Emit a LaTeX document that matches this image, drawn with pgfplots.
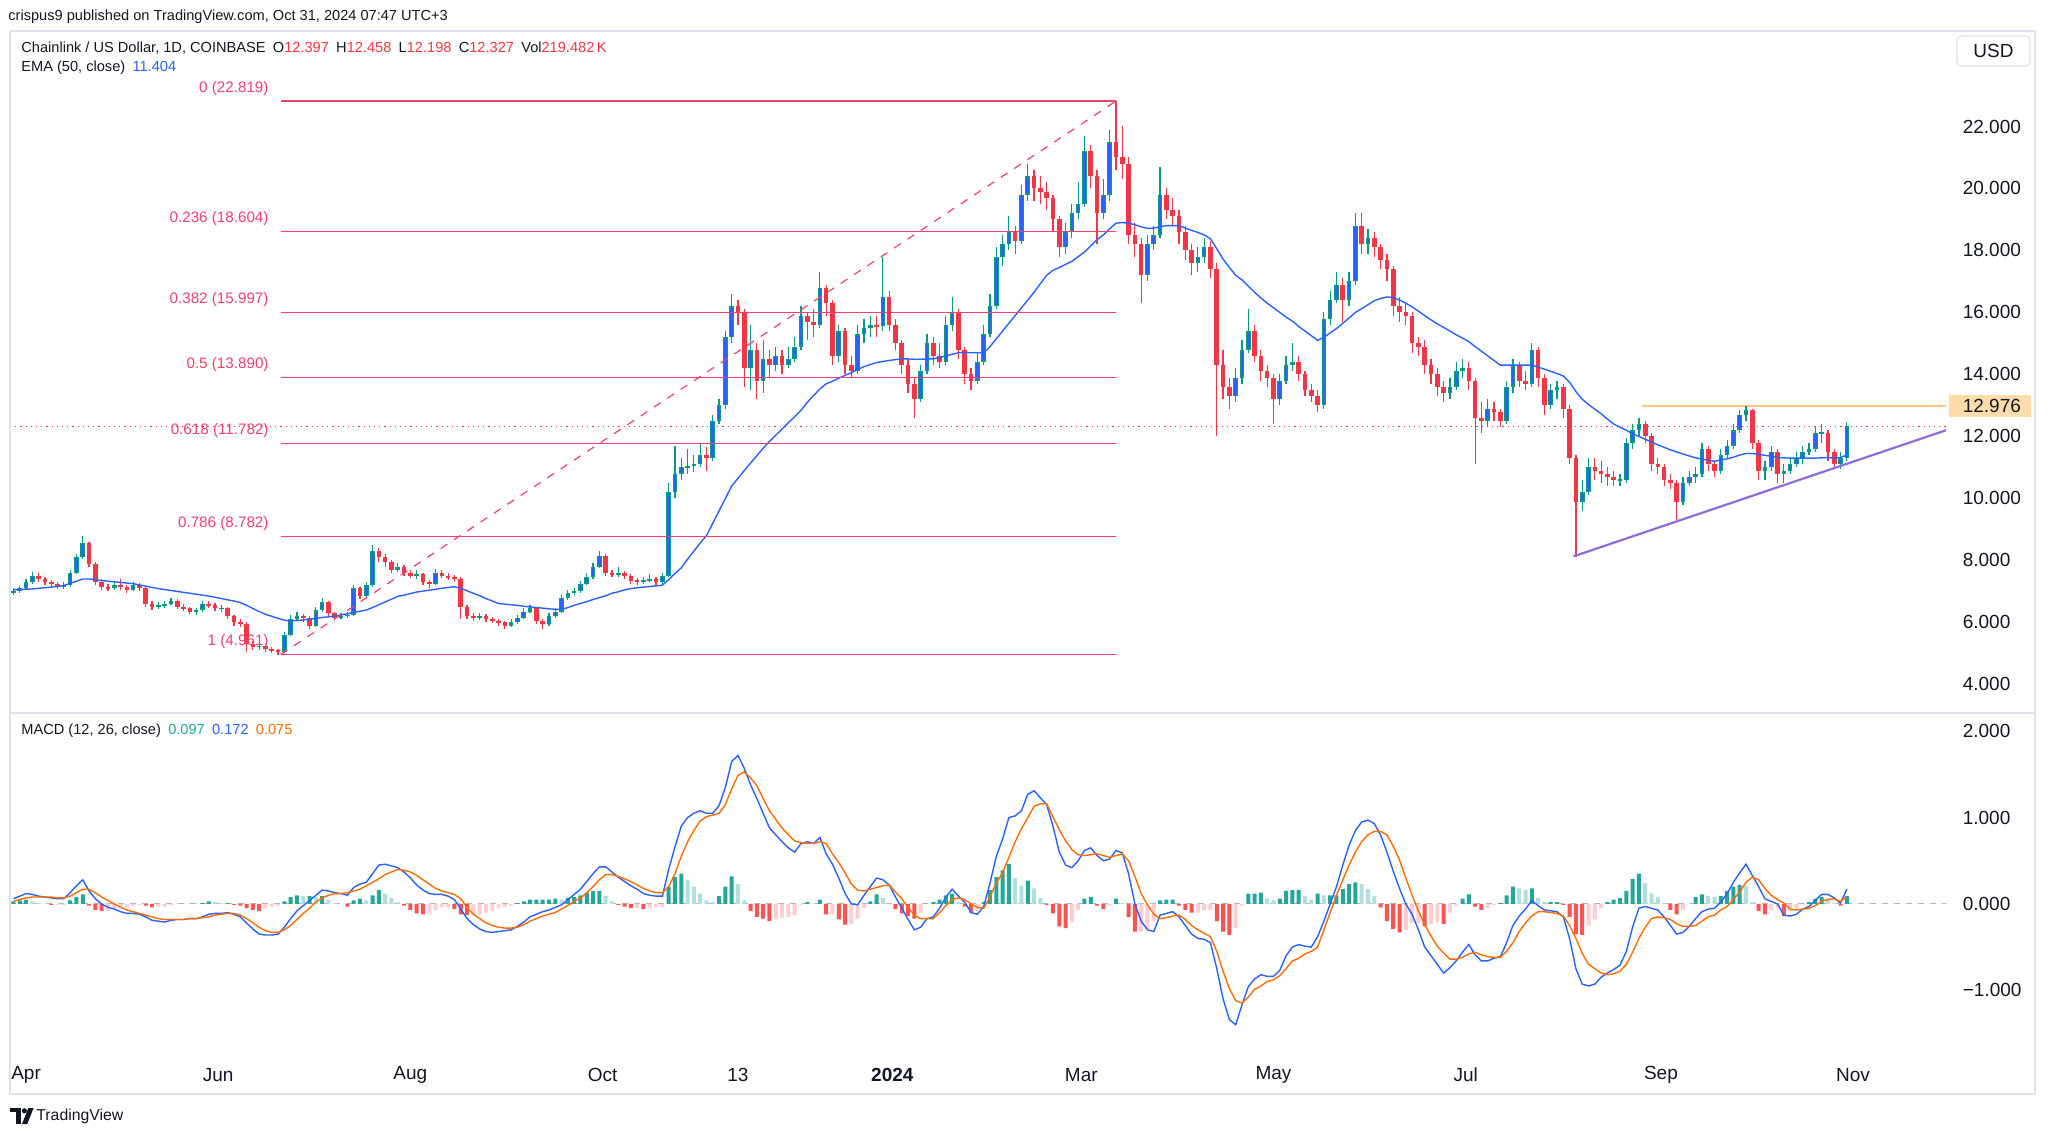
\documentclass[border=0pt]{standalone}
\usepackage{fontspec}
\setmainfont{Liberation Sans}
\usepackage{pgfplots}
\usepackage{pgfplotstable}
\pgfplotsset{compat=1.18}

\definecolor{tvtext}{HTML}{131722}
\definecolor{tvgrey}{HTML}{E0E3EB}
\definecolor{upwick}{HTML}{089981}
\definecolor{upbody}{HTML}{2962FF}
\definecolor{downc}{HTML}{F23645}
\definecolor{emablue}{HTML}{2962FF}
\definecolor{fibpink}{HTML}{F2416E}
\definecolor{trendpurple}{HTML}{8E6CDB}
\definecolor{resorange}{HTML}{FFC77A}
\definecolor{resfill}{HTML}{FFDDAA}
\definecolor{sigorange}{HTML}{FF6D00}
\definecolor{histup}{HTML}{26A69A}
\definecolor{histupfade}{HTML}{B2DFDB}
\definecolor{histdn}{HTML}{FF5252}
\definecolor{histdnfade}{HTML}{FFCDD2}
\definecolor{zerogrey}{HTML}{B2B5BE}
\definecolor{legteal}{HTML}{22AB94}

\newcommand\hdrfont{\fontsize{7.3}{8.5}\selectfont}
\newcommand\tickfont{\fontsize{9.5}{11}\selectfont}
\newcommand\fibfont{\fontsize{7.6}{9}\selectfont}

% LINK/USD, 2-day candles (d = days since 1 Apr 2023)
% c h l = close high low, e = EMA 50, m = MACD, s = signal
\pgfplotstableread{
d c h l e m s
-4 7.00 7.10 6.88 7.05 0.06 0.03
-2 7.10 7.18 6.95 7.06 0.09 0.05
0 7.30 7.40 7.05 7.07 0.12 0.07
2 7.50 7.62 7.25 7.08 0.11 0.08
4 7.40 7.58 7.32 7.10 0.09 0.08
6 7.30 7.45 7.20 7.12 0.08 0.08
8 7.25 7.38 7.15 7.14 0.07 0.08
10 7.15 7.32 7.08 7.16 0.06 0.07
12 7.20 7.30 7.08 7.19 0.06 0.07
14 7.60 7.70 7.15 7.26 0.13 0.09
16 8.10 8.20 7.55 7.33 0.21 0.13
18 8.55 8.80 8.05 7.40 0.28 0.17
20 7.90 8.60 7.80 7.40 0.15 0.17
22 7.30 7.95 7.20 7.38 0.06 0.13
24 7.15 7.40 7.05 7.35 0.00 0.08
26 7.10 7.25 7.00 7.33 -0.04 0.04
28 7.20 7.32 7.05 7.31 -0.06 0.00
30 7.15 7.40 7.05 7.29 -0.09 -0.04
32 7.05 7.22 6.95 7.27 -0.11 -0.07
34 7.20 7.30 7.00 7.25 -0.11 -0.09
36 7.10 7.28 7.00 7.21 -0.12 -0.11
38 6.60 7.15 6.50 7.17 -0.15 -0.13
40 6.50 6.68 6.40 7.13 -0.19 -0.15
42 6.55 6.65 6.42 7.09 -0.20 -0.17
44 6.60 6.70 6.48 7.06 -0.21 -0.18
46 6.70 6.80 6.55 7.03 -0.19 -0.18
48 6.50 6.75 6.42 7.00 -0.18 -0.18
50 6.45 6.58 6.38 6.97 -0.18 -0.18
52 6.35 6.50 6.28 6.94 -0.17 -0.17
54 6.40 6.48 6.25 6.91 -0.17 -0.17
56 6.60 6.70 6.35 6.88 -0.15 -0.16
58 6.55 6.68 6.45 6.85 -0.12 -0.15
60 6.45 6.62 6.38 6.81 -0.11 -0.13
62 6.45 6.55 6.35 6.77 -0.11 -0.12
64 6.20 6.50 6.10 6.73 -0.10 -0.11
66 6.00 6.25 5.90 6.69 -0.12 -0.11
68 5.95 6.10 5.85 6.64 -0.15 -0.13
70 5.30 6.00 5.05 6.55 -0.22 -0.17
72 5.20 5.40 5.10 6.45 -0.29 -0.22
74 5.25 5.35 5.12 6.35 -0.35 -0.27
76 5.15 5.30 5.05 6.26 -0.36 -0.31
78 5.10 5.22 5.02 6.20 -0.36 -0.33
80 5.05 5.15 4.96 6.13 -0.35 -0.33
82 5.60 5.70 5.00 6.07 -0.27 -0.30
84 6.10 6.25 5.55 6.05 -0.17 -0.25
86 6.20 6.35 6.05 6.06 -0.08 -0.18
88 6.15 6.28 6.00 6.08 -0.02 -0.11
90 5.90 6.20 5.80 6.10 0.04 -0.05
92 6.40 6.50 5.85 6.13 0.10 0.02
94 6.65 6.78 6.35 6.16 0.16 0.07
96 6.30 6.70 6.22 6.18 0.15 0.10
98 6.15 6.35 6.08 6.21 0.13 0.12
100 6.20 6.30 6.10 6.24 0.12 0.12
102 6.25 6.35 6.15 6.28 0.10 0.13
104 7.10 7.20 6.20 6.32 0.19 0.15
106 6.85 7.15 6.75 6.36 0.23 0.17
108 7.20 7.30 6.80 6.40 0.25 0.21
110 8.30 8.50 7.15 6.48 0.35 0.25
112 8.10 8.40 7.95 6.57 0.45 0.29
114 7.95 8.20 7.80 6.66 0.46 0.34
116 7.70 8.00 7.60 6.75 0.44 0.37
118 7.80 7.92 7.62 6.84 0.42 0.40
120 7.60 7.85 7.50 6.88 0.37 0.39
122 7.50 7.70 7.42 6.93 0.30 0.37
124 7.55 7.68 7.40 6.98 0.22 0.33
126 7.30 7.60 7.20 7.01 0.16 0.28
128 7.25 7.38 7.12 7.04 0.12 0.23
130 7.60 7.72 7.20 7.07 0.11 0.18
132 7.50 7.68 7.42 7.10 0.11 0.15
134 7.45 7.58 7.38 7.13 0.09 0.13
136 7.40 7.52 7.30 7.15 0.05 0.11
138 6.50 7.45 6.10 7.10 -0.06 0.06
140 6.20 6.55 6.10 7.02 -0.17 -0.04
142 6.15 6.30 6.05 6.94 -0.24 -0.12
144 6.20 6.32 6.08 6.86 -0.29 -0.17
146 6.10 6.28 6.02 6.77 -0.32 -0.22
148 6.05 6.18 5.98 6.69 -0.33 -0.25
150 6.00 6.12 5.90 6.61 -0.32 -0.27
152 5.90 6.05 5.78 6.59 -0.31 -0.28
154 6.00 6.10 5.85 6.57 -0.30 -0.28
156 6.15 6.25 5.95 6.55 -0.26 -0.27
158 6.35 6.45 6.10 6.52 -0.21 -0.24
160 6.45 6.55 6.30 6.50 -0.15 -0.20
162 6.05 6.50 5.95 6.48 -0.12 -0.17
164 5.95 6.10 5.80 6.46 -0.09 -0.14
166 6.20 6.30 5.90 6.44 -0.07 -0.12
168 6.35 6.45 6.15 6.42 -0.04 -0.10
170 6.80 6.90 6.30 6.42 -0.01 -0.06
172 6.95 7.05 6.72 6.48 0.05 -0.02
174 7.00 7.12 6.88 6.55 0.11 0.03
176 7.25 7.35 6.95 6.61 0.17 0.07
178 7.45 7.60 7.20 6.67 0.26 0.13
180 7.80 7.92 7.40 6.74 0.35 0.20
182 8.15 8.30 7.75 6.80 0.43 0.28
184 7.60 8.20 7.50 6.86 0.43 0.34
186 7.55 7.70 7.45 6.94 0.37 0.34
188 7.60 7.80 7.48 6.99 0.31 0.32
190 7.50 7.65 7.40 7.05 0.26 0.29
192 7.35 7.55 7.25 7.09 0.21 0.26
194 7.30 7.42 7.22 7.12 0.17 0.22
196 7.35 7.48 7.25 7.14 0.12 0.18
198 7.40 7.55 7.30 7.16 0.10 0.15
200 7.30 7.45 7.22 7.18 0.09 0.13
202 7.50 7.60 7.25 7.20 0.09 0.13
204 10.20 10.50 7.45 7.38 0.40 0.20
206 10.80 11.70 10.00 7.58 0.66 0.35
208 11.00 11.30 10.60 7.76 0.90 0.55
210 11.05 11.60 10.80 8.04 1.00 0.72
212 11.10 11.40 10.85 8.30 1.05 0.85
214 11.40 11.80 11.00 8.56 1.08 0.96
216 11.30 11.65 10.90 8.80 1.05 1.01
218 12.50 12.70 11.20 9.20 1.05 1.03
220 13.00 13.20 12.40 9.60 1.14 1.05
222 15.20 15.40 12.90 10.00 1.35 1.15
224 16.20 16.60 15.00 10.40 1.65 1.33
226 16.00 16.40 15.60 10.65 1.72 1.49
228 14.20 16.10 13.60 10.90 1.57 1.53
230 14.80 15.60 13.50 11.14 1.38 1.46
232 13.80 15.00 13.20 11.38 1.22 1.37
234 14.50 15.10 13.40 11.62 1.05 1.22
236 14.30 14.80 13.90 11.84 0.88 1.08
238 14.60 14.90 14.10 12.04 0.80 0.98
240 14.30 14.80 14.00 12.24 0.72 0.88
242 14.50 14.90 14.20 12.44 0.65 0.80
244 14.90 15.20 14.40 12.64 0.60 0.73
246 15.90 16.20 14.80 12.84 0.70 0.71
248 15.70 16.00 15.10 13.10 0.72 0.70
250 15.60 16.10 15.20 13.32 0.70 0.70
252 16.80 17.30 15.50 13.53 0.77 0.72
254 16.30 16.90 15.90 13.70 0.58 0.70
256 14.60 16.40 14.30 13.78 0.46 0.58
258 15.40 15.60 14.40 13.88 0.30 0.48
260 14.30 15.50 14.00 13.97 0.12 0.36
262 14.10 14.60 13.90 14.06 0.00 0.23
264 15.30 15.60 14.00 14.16 -0.01 0.16
266 15.50 15.80 15.00 14.25 0.10 0.15
268 15.60 15.90 15.20 14.32 0.20 0.17
270 15.55 15.90 15.20 14.38 0.30 0.19
272 16.50 17.80 15.40 14.42 0.28 0.21
274 15.60 16.70 15.40 14.45 0.22 0.22
276 15.00 15.80 14.80 14.48 0.08 0.14
278 14.30 15.10 14.00 14.50 -0.05 0.06
280 13.70 14.50 13.40 14.50 -0.18 -0.04
282 13.20 13.90 12.60 14.49 -0.30 -0.13
284 14.10 14.30 13.10 14.49 -0.27 -0.17
286 15.00 15.30 14.00 14.50 -0.17 -0.17
288 14.60 15.20 14.30 14.50 -0.15 -0.17
290 14.40 15.00 14.20 14.55 -0.05 -0.10
292 15.60 15.90 14.30 14.60 0.08 -0.02
294 16.00 16.50 15.40 14.65 0.17 0.05
296 14.80 16.10 14.50 14.70 0.09 0.07
298 14.00 14.90 13.70 14.70 0.02 0.05
300 13.80 14.20 13.50 14.70 -0.10 0.00
302 14.40 14.70 13.70 14.70 -0.12 -0.04
304 15.30 15.60 14.30 14.70 -0.03 -0.05
306 16.20 16.60 15.20 14.90 0.24 0.08
308 17.80 18.10 16.10 15.15 0.55 0.24
310 18.20 18.50 17.50 15.40 0.75 0.36
312 18.60 19.10 18.00 15.65 1.00 0.54
314 18.30 18.80 17.90 15.90 1.02 0.72
316 19.80 20.10 18.20 16.15 1.08 0.87
318 20.40 20.80 19.60 16.40 1.27 1.00
320 20.00 20.60 19.60 16.65 1.31 1.13
322 19.90 20.40 19.50 16.93 1.23 1.16
324 19.70 20.20 19.30 17.20 1.15 1.16
326 19.00 19.80 18.60 17.36 0.90 1.01
328 18.10 19.10 17.80 17.45 0.60 0.86
330 18.60 18.90 17.90 17.55 0.45 0.73
332 19.20 19.50 18.40 17.65 0.42 0.63
334 19.50 20.20 19.00 17.80 0.50 0.57
336 21.20 21.70 19.40 17.95 0.62 0.56
338 20.40 21.40 20.00 18.15 0.65 0.57
340 19.20 20.60 18.20 18.35 0.56 0.58
342 19.80 20.30 19.00 18.50 0.50 0.56
344 21.50 21.90 19.60 18.70 0.52 0.54
346 21.00 22.82 20.60 18.88 0.62 0.56
348 20.80 22.00 20.30 18.90 0.59 0.58
350 18.50 21.00 18.20 18.88 0.35 0.50
352 18.20 18.90 17.80 18.83 0.00 0.32
354 17.20 18.40 16.30 18.76 -0.20 0.12
356 18.20 18.50 17.00 18.71 -0.30 -0.01
358 18.50 18.80 18.00 18.72 -0.32 -0.12
360 19.80 20.70 18.40 18.77 -0.13 -0.17
362 19.30 20.00 19.00 18.80 -0.11 -0.16
364 19.10 19.70 18.80 18.80 -0.09 -0.14
366 18.60 19.30 18.20 18.80 -0.15 -0.13
368 18.00 18.80 17.70 18.72 -0.25 -0.18
370 17.60 18.20 17.20 18.65 -0.35 -0.25
372 17.80 18.10 17.30 18.58 -0.40 -0.30
374 18.10 18.40 17.60 18.50 -0.41 -0.34
376 17.40 18.30 17.10 18.38 -0.45 -0.38
378 14.30 17.60 12.00 18.05 -0.75 -0.55
380 13.60 14.80 13.20 17.72 -1.10 -0.78
382 13.30 13.90 12.90 17.45 -1.34 -0.98
384 13.90 14.20 13.10 17.20 -1.40 -1.12
386 14.80 15.10 13.70 17.05 -1.17 -1.15
388 15.40 16.10 14.70 16.85 -0.96 -1.08
390 14.60 15.60 14.40 16.65 -0.87 -0.99
392 14.10 14.80 13.80 16.47 -0.82 -0.95
394 13.90 14.30 13.60 16.30 -0.84 -0.90
396 13.20 14.00 12.40 16.15 -0.84 -0.88
398 13.80 14.00 13.00 16.00 -0.77 -0.83
400 14.30 14.60 13.70 15.85 -0.60 -0.75
402 14.40 15.00 14.10 15.72 -0.50 -0.66
404 14.00 14.60 13.80 15.55 -0.47 -0.63
406 13.50 14.10 13.30 15.40 -0.49 -0.58
408 13.30 13.70 13.10 15.25 -0.50 -0.55
410 13.00 13.50 12.80 15.10 -0.38 -0.50
412 15.80 16.00 12.90 15.20 -0.20 -0.30
414 16.40 16.70 15.60 15.34 0.00 -0.10
416 16.90 17.30 16.30 15.48 0.20 0.10
418 16.40 17.10 15.70 15.65 0.45 0.28
420 17.00 17.30 16.20 15.82 0.68 0.45
422 18.80 19.20 16.90 16.00 0.85 0.60
424 18.20 19.20 17.90 16.12 0.95 0.72
426 18.40 18.70 17.90 16.25 0.97 0.80
428 18.10 18.60 17.80 16.38 0.93 0.84
430 17.70 18.20 17.40 16.45 0.80 0.84
432 17.40 17.90 17.00 16.50 0.60 0.80
434 16.20 17.50 15.90 16.48 0.38 0.67
436 16.00 16.50 15.70 16.40 0.18 0.51
438 15.90 16.30 15.60 16.30 0.00 0.30
440 15.00 16.00 14.70 16.18 -0.12 0.10
442 14.90 15.20 14.60 16.04 -0.30 -0.08
444 14.30 15.10 14.00 15.90 -0.50 -0.24
446 14.00 14.50 13.70 15.76 -0.60 -0.37
448 13.60 14.20 13.30 15.63 -0.70 -0.49
450 13.40 13.80 13.10 15.52 -0.80 -0.57
452 13.60 13.90 13.20 15.40 -0.74 -0.64
454 14.10 14.40 13.50 15.28 -0.66 -0.64
456 14.20 14.50 13.90 15.17 -0.56 -0.62
458 13.80 14.40 13.50 15.06 -0.47 -0.58
460 12.60 13.90 11.10 14.90 -0.59 -0.56
462 12.50 13.10 12.10 14.75 -0.66 -0.59
464 12.90 13.20 12.30 14.60 -0.66 -0.61
466 12.80 13.10 12.50 14.45 -0.63 -0.62
468 12.50 12.90 12.30 14.30 -0.61 -0.62
470 13.60 13.80 12.40 14.30 -0.45 -0.55
472 14.30 14.50 13.40 14.30 -0.25 -0.45
474 13.80 14.40 13.60 14.30 -0.14 -0.32
476 13.70 14.10 13.50 14.30 -0.06 -0.22
478 14.80 15.00 13.60 14.30 0.04 -0.14
480 13.90 14.90 13.60 14.24 -0.02 -0.09
482 13.00 14.00 12.70 14.17 -0.07 -0.09
484 13.50 13.70 12.90 14.10 -0.08 -0.10
486 13.60 13.80 13.20 14.03 -0.09 -0.11
488 12.90 13.70 12.60 13.95 -0.15 -0.14
490 11.30 13.00 11.10 13.75 -0.40 -0.25
492 9.90 11.40 8.10 13.45 -0.75 -0.40
494 10.20 10.60 9.60 13.20 -0.93 -0.57
496 11.00 11.30 10.10 13.03 -0.95 -0.70
498 10.90 11.30 10.60 12.88 -0.93 -0.75
500 10.80 11.20 10.50 12.73 -0.85 -0.80
502 10.70 11.00 10.40 12.56 -0.80 -0.82
504 10.60 10.90 10.40 12.40 -0.76 -0.81
506 10.60 10.80 10.40 12.30 -0.71 -0.78
508 11.80 11.95 10.50 12.20 -0.55 -0.70
510 12.20 12.40 11.60 12.09 -0.27 -0.56
512 12.40 12.60 12.00 12.00 -0.05 -0.40
514 12.00 12.50 11.80 11.91 -0.03 -0.27
516 11.10 12.10 10.90 11.82 -0.05 -0.17
518 11.00 11.30 10.80 11.73 -0.07 -0.15
520 10.60 11.10 10.40 11.65 -0.15 -0.16
522 10.50 10.80 10.30 11.57 -0.25 -0.18
524 9.90 10.60 9.30 11.50 -0.35 -0.23
526 10.50 10.70 9.80 11.43 -0.33 -0.26
528 10.70 10.90 10.40 11.37 -0.26 -0.26
530 10.80 11.00 10.50 11.31 -0.17 -0.25
532 11.60 11.80 10.70 11.27 -0.09 -0.20
534 11.10 11.70 10.90 11.23 -0.06 -0.15
536 10.90 11.20 10.70 11.20 -0.05 -0.13
538 11.40 11.60 10.80 11.24 0.02 -0.07
540 11.70 11.90 11.30 11.28 0.12 -0.03
542 12.20 12.40 11.60 11.33 0.25 0.05
544 12.70 12.85 12.10 11.40 0.36 0.14
546 12.85 12.976 12.50 11.45 0.46 0.25
548 11.80 12.90 11.60 11.45 0.33 0.31
550 10.90 11.90 10.60 11.42 0.20 0.28
552 11.00 11.20 10.60 11.39 0.06 0.18
554 11.50 11.70 10.90 11.36 0.03 0.10
556 10.80 11.60 10.50 11.32 0.00 0.05
558 10.90 11.10 10.50 11.31 -0.13 0.01
560 11.10 11.30 10.80 11.30 -0.14 -0.06
562 11.30 11.50 11.00 11.30 -0.12 -0.07
564 11.50 11.70 11.10 11.30 -0.06 -0.06
566 11.60 11.80 11.40 11.30 -0.03 -0.05
568 12.10 12.30 11.50 11.30 0.04 -0.02
570 12.10 12.40 11.80 11.31 0.11 0.03
572 11.50 12.20 11.20 11.32 0.11 0.05
574 11.10 11.60 10.95 11.30 0.07 0.06
576 11.30 11.50 10.95 11.32 0.01 0.03
578 12.33 12.46 11.20 11.40 0.17 0.08
}\link
% open = previous close; dh = change of the MACD histogram
\pgfplotstablecreatecol[create col/expr={(0\prevrow{c})>0 ? (0\prevrow{c}) : 6.95}]{o}\link
\pgfplotstablecreatecol[create col/expr={\thisrow{m}-\thisrow{s}-(0\prevrow{m})+(0\prevrow{s})}]{dh}\link

\begin{document}
\begin{tikzpicture}
\path[use as bounding box, fill=white] (0,0) rectangle (1024pt,568pt);

\begin{axis}[
  at={(5pt,212pt)}, anchor=south west,
  scale only axis, width=968pt, height=340.5pt,
  xmin=-5.1, xmax=609.5, ymin=3.11, ymax=25.08,
  axis line style={draw=none}, major tick length=0pt,
  xtick=\empty,
  ytick={4,6,8,10,12,14,16,18,20,22},
  yticklabels={4.000,6.000,8.000,10.000,12.000,14.000,16.000,18.000,20.000,22.000},
  yticklabel pos=right,
  yticklabel style={font=\tickfont, text=tvtext, anchor=west, inner sep=0pt, xshift=8.2pt},
]
% current price and resistance
\addplot[downc, dotted, line width=0.6pt] coordinates {(-5.1,12.327) (609.5,12.327)};
\addplot[resorange, line width=0.7pt] coordinates {(513,12.976) (609.5,12.976)};

% wicks
\addplot[draw=none, mark=none, forget plot, error bars/.cd, y dir=both, y explicit, error mark=none,
  error bar style={draw=upwick, line width=0.6pt, solid}]
  table[x=d, y expr={\thisrow{c}>=\thisrow{o} ? 0.5*(\thisrow{h}+\thisrow{l}) : nan},
        y error expr={0.5*(\thisrow{h}-\thisrow{l})}] {\link};
\addplot[draw=none, mark=none, forget plot, error bars/.cd, y dir=both, y explicit, error mark=none,
  error bar style={draw=downc, line width=0.6pt, solid}]
  table[x=d, y expr={\thisrow{c}<\thisrow{o} ? 0.5*(\thisrow{h}+\thisrow{l}) : nan},
        y error expr={0.5*(\thisrow{h}-\thisrow{l})}] {\link};
% bodies
\addplot[draw=none, mark=none, forget plot, error bars/.cd, y dir=both, y explicit, error mark=none,
  error bar style={draw=upwick, line width=2.3pt, solid}]
  table[x=d, y expr={\thisrow{c}>=\thisrow{o} ? 0.5*(\thisrow{c}+\thisrow{o}) : nan},
        y error expr={max(0.5*abs(\thisrow{c}-\thisrow{o}),0.03)}] {\link};
\addplot[draw=none, mark=none, forget plot, error bars/.cd, y dir=both, y explicit, error mark=none,
  error bar style={draw=upbody, line width=1.3pt, solid}]
  table[x=d, y expr={\thisrow{c}>=\thisrow{o} ? 0.5*(\thisrow{c}+\thisrow{o}) : nan},
        y error expr={max(0.5*abs(\thisrow{c}-\thisrow{o})-0.05,0)}] {\link};
\addplot[draw=none, mark=none, forget plot, error bars/.cd, y dir=both, y explicit, error mark=none,
  error bar style={draw=downc, line width=2.3pt, solid}]
  table[x=d, y expr={\thisrow{c}<\thisrow{o} ? 0.5*(\thisrow{c}+\thisrow{o}) : nan},
        y error expr={max(0.5*abs(\thisrow{c}-\thisrow{o}),0.03)}] {\link};

% EMA 50
\addplot[emablue, line width=0.7pt, mark=none] table[x=d, y=e] {\link};

% Fibonacci retracement
\addplot[fibpink, line width=0.6pt] coordinates {(80.8,22.819) (346,22.819)};
\addplot[fibpink, line width=0.6pt] coordinates {(80.8,18.604) (346,18.604)};
\addplot[fibpink, line width=0.6pt] coordinates {(80.8,15.997) (346,15.997)};
\addplot[fibpink, line width=0.6pt] coordinates {(80.8,13.890) (346,13.890)};
\addplot[fibpink, line width=0.6pt] coordinates {(80.8,11.782) (346,11.782)};
\addplot[fibpink, line width=0.6pt] coordinates {(80.8,8.782) (346,8.782)};
\addplot[fibpink, line width=0.6pt] coordinates {(80.8,4.961) (346,4.961)};
\addplot[fibpink, line width=0.6pt, dash pattern=on 4pt off 4pt] coordinates {(80.8,4.961) (346,22.819)};

\node[fibpink, font=\fibfont, anchor=east, inner sep=0pt, yshift=6.4pt] at (axis cs:77.1,22.819) {0 (22.819)};
\node[fibpink, font=\fibfont, anchor=east, inner sep=0pt, yshift=6.4pt] at (axis cs:77.1,18.604) {0.236 (18.604)};
\node[fibpink, font=\fibfont, anchor=east, inner sep=0pt, yshift=6.4pt] at (axis cs:77.1,15.997) {0.382 (15.997)};
\node[fibpink, font=\fibfont, anchor=east, inner sep=0pt, yshift=6.4pt] at (axis cs:77.1,13.890) {0.5 (13.890)};
\node[fibpink, font=\fibfont, anchor=east, inner sep=0pt, yshift=6.4pt] at (axis cs:77.1,11.782) {0.618 (11.782)};
\node[fibpink, font=\fibfont, anchor=east, inner sep=0pt, yshift=6.4pt] at (axis cs:77.1,8.782) {0.786 (8.782)};
\node[fibpink, font=\fibfont, anchor=east, inner sep=0pt, yshift=6.4pt] at (axis cs:77.1,4.961) {1 (4.961)};

% rising trendline
\addplot[trendpurple, line width=1.1pt] coordinates {(491.2,8.13) (609.5,12.2)};
\end{axis}

\begin{axis}[
  at={(5pt,39pt)}, anchor=south west,
  scale only axis, width=968pt, height=172pt,
  xmin=-5.1, xmax=609.5, ymin=-1.785, ymax=2.20,
  axis line style={draw=none}, major tick length=0pt,
  xtick={0,61,122,183,226,275,335,396,457,519,580},
  xticklabels={Apr,Jun,Aug,Oct,13,\textbf{2024},Mar,May,Jul,Sep,Nov},
  xticklabel style={font=\tickfont, text=tvtext, anchor=center, inner sep=0pt, yshift=-8.5pt},
  ytick={-1,0,1,2},
  yticklabels={−1.000,0.000,1.000,2.000},
  yticklabel pos=right,
  yticklabel style={font=\tickfont, text=tvtext, anchor=west, inner sep=0pt, xshift=8.2pt},
]
\addplot[zerogrey, line width=0.5pt, dash pattern=on 3pt off 3pt] coordinates {(-5.1,0) (609.5,0)};
\addplot[ybar, bar width=2pt, bar shift=0pt, draw=none, fill=histup]
  table[x=d, y expr={and(\thisrow{m}-\thisrow{s}>=0, \thisrow{dh}>=0) ? \thisrow{m}-\thisrow{s} : nan}] {\link};
\addplot[ybar, bar width=2pt, bar shift=0pt, draw=none, fill=histupfade]
  table[x=d, y expr={and(\thisrow{m}-\thisrow{s}>=0, \thisrow{dh}<0) ? \thisrow{m}-\thisrow{s} : nan}] {\link};
\addplot[ybar, bar width=2pt, bar shift=0pt, draw=none, fill=histdn]
  table[x=d, y expr={and(\thisrow{m}-\thisrow{s}<0, \thisrow{dh}<0) ? \thisrow{m}-\thisrow{s} : nan}] {\link};
\addplot[ybar, bar width=2pt, bar shift=0pt, draw=none, fill=histdnfade]
  table[x=d, y expr={and(\thisrow{m}-\thisrow{s}<0, \thisrow{dh}>=0) ? \thisrow{m}-\thisrow{s} : nan}] {\link};
\addplot[upbody, line width=0.7pt, mark=none] table[x=d, y=m] {\link};
\addplot[sigorange, line width=0.7pt, mark=none] table[x=d, y=s] {\link};
\end{axis}

% frame and panel separator
\draw[tvgrey, line width=0.6pt] (5pt,21pt) rectangle (1017.5pt,552.5pt);
\draw[tvgrey, line width=0.6pt] (5pt,211.5pt) -- (1017.5pt,211.5pt);

% price scale extras
\fill[resfill] (974.5pt,359.5pt) rectangle (1015.5pt,370.5pt);
\node[font=\tickfont, text=tvtext, anchor=west, inner sep=0pt] at (981.2pt,365pt) {12.976};
\draw[tvgrey, fill=white, rounded corners=2pt, line width=0.6pt] (978.5pt,535pt) rectangle (1015pt,550pt);
\node[font=\tickfont, text=tvtext] at (996.75pt,542.5pt) {USD};

% header and legends
\node[font=\hdrfont, text=tvtext, anchor=west, inner sep=0pt] at (4pt,559.5pt)
  {crispus9 published on TradingView.com, Oct 31, 2024 07:47 UTC+3};
\node[font=\hdrfont, text=tvtext, anchor=west, inner sep=0pt] at (10.5pt,544pt)
  {Chainlink / US Dollar, 1D, COINBASE\enspace O\textcolor{downc}{12.397}\enspace H\textcolor{downc}{12.458}\enspace L\textcolor{downc}{12.198}\enspace C\textcolor{downc}{12.327}\enspace Vol\textcolor{downc}{219.482\,K}};
\node[font=\hdrfont, text=tvtext, anchor=west, inner sep=0pt] at (10.5pt,534pt)
  {EMA (50, close)\enspace\textcolor{emablue}{11.404}};
\node[font=\hdrfont, text=tvtext, anchor=west, inner sep=0pt] at (10.5pt,202.5pt)
  {MACD (12, 26, close)\enspace\textcolor{legteal}{0.097}\enspace\textcolor{upbody}{0.172}\enspace\textcolor{sigorange}{0.075}};

% TradingView mark
\fill[tvtext] (5pt,12.2pt) rectangle (10.4pt,14pt);
\fill[tvtext] (8.2pt,6pt) rectangle (10.4pt,14pt);
\fill[tvtext] (12.2pt,12.6pt) circle (1.3pt);
\fill[tvtext] (14.2pt,14pt) -- (16.8pt,14pt) -- (13.6pt,6pt) -- (11pt,6pt) -- cycle;
\node[font=\fontsize{7.9}{9}\selectfont, text=tvtext, anchor=west, inner sep=0pt] at (18pt,10pt) {TradingView};
\end{tikzpicture}
\end{document}
